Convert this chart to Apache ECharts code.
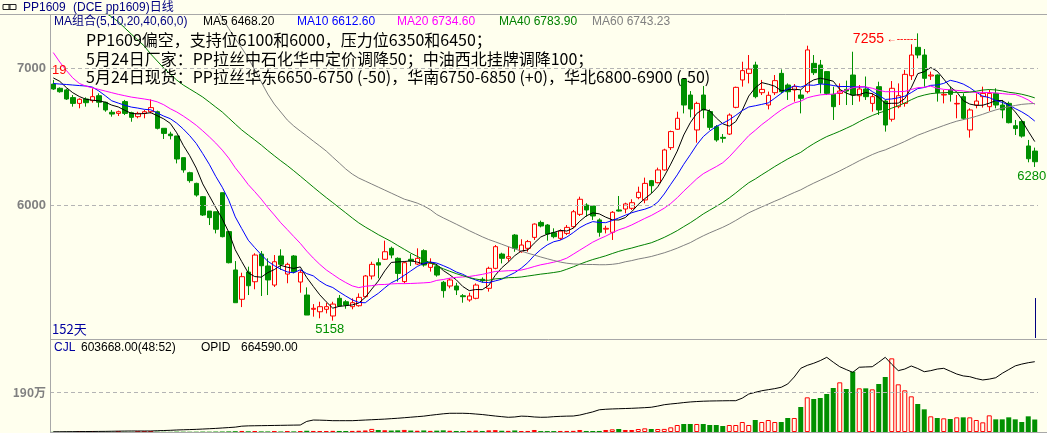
<!DOCTYPE html>
<html><head><meta charset="utf-8">
<script src="https://cdn.jsdelivr.net/npm/echarts@6/dist/echarts.min.js"></script>
<style>html,body{margin:0;padding:0;background:#FFFFEE;}#c{width:1047px;height:433px;}</style>
</head><body><div id="c"></div>
<script>
const categories = Array.from({length:152}, (_, i) => String(i + 1));
const opens = [6885,6854,6842,6786,6744,6776,6764,6800,6752,6679,
6671,6757,6676,6647,6671,6683,6683,6562,6520,6506,
6348,6238,6160,6063,5958,5953,6092,5808,5528,5314,
5513,5442,5644,5557,5418,5630,5498,5630,5440,5345,
5241,5223,5241,5192,5321,5296,5260,5267,5333,5484,
5581,5606,5686,5613,5443,5606,5571,5669,5547,5552,
5438,5411,5411,5340,5309,5321,5460,5394,5540,5644,
5613,5783,5661,5686,5766,5875,5856,5800,5759,5795,
5844,5934,6002,5995,5893,5826,5803,5966,5973,5978,
6056,6039,6180,6165,6258,6421,6555,6922,6805,6550,
6805,6684,6574,6496,6520,6715,6915,6963,7024,6822,
6732,6822,6963,6878,6842,6805,6830,7036,7024,6976,
6810,6817,6846,6951,6800,6849,6744,6866,6761,6628,
6720,6744,6946,7153,7097,6944,6951,6805,6842,6740,
6793,6550,6732,6793,6720,6817,6732,6744,6581,6611,
6433,6396];
const closes = [6849,6829,6776,6744,6774,6749,6793,6752,6696,6666,
6683,6671,6642,6671,6683,6713,6562,6525,6508,6338,
6258,6180,6075,5929,5910,5825,5771,5581,5289,5479,
5413,5637,5559,5455,5588,5569,5569,5515,5511,5199,
5248,5260,5260,5279,5265,5272,5289,5328,5484,5569,
5564,5661,5637,5503,5581,5593,5613,5564,5576,5491,
5377,5455,5382,5333,5338,5418,5450,5540,5698,5613,
5625,5686,5710,5735,5863,5849,5790,5771,5812,5839,
5953,6044,5966,5922,5803,5832,5949,5958,6010,6019,
6095,6160,6143,6258,6404,6538,6635,6732,6703,6744,
6696,6569,6477,6489,6659,6861,6983,6995,6793,6846,
6803,6910,6829,6829,6866,6781,7134,6968,6890,6817,
6720,6834,6834,6805,6849,6793,6793,6696,6586,6854,
6800,6956,7097,7097,6927,6951,6822,6810,6810,6744,
6635,6696,6761,6817,6817,6732,6696,6603,6560,6505,
6340,6318];
const lows = [6842,6822,6769,6720,6708,6720,6749,6715,6683,6647,
6652,6659,6610,6635,6635,6671,6554,6484,6481,6306,
6238,6165,6063,5922,5856,5795,5766,5576,5289,5257,
5345,5387,5338,5345,5404,5528,5431,5504,5362,5199,
5187,5175,5211,5158,5260,5245,5241,5260,5326,5459,
5467,5601,5613,5443,5430,5557,5564,5552,5516,5479,
5326,5394,5345,5289,5296,5314,5435,5370,5533,5576,
5588,5661,5654,5661,5747,5839,5742,5759,5747,5783,
5832,5922,5917,5893,5771,5795,5747,5954,5942,5966,
6044,6015,6087,6160,6253,6404,6550,6671,6642,6457,
6635,6550,6464,6457,6513,6708,6866,6890,6781,6805,
6700,6805,6817,6769,6757,6671,6817,6951,6817,6805,
6623,6732,6732,6732,6757,6769,6683,6659,6538,6611,
6708,6720,6915,7073,6866,6915,6757,6744,6757,6635,
6623,6494,6708,6713,6688,6708,6635,6598,6513,6494,
6314,6280];
const highs = [6915,6861,6851,6805,6781,6788,6854,6817,6756,6696,
6691,6769,6683,6683,6696,6773,6691,6562,6537,6506,
6348,6245,6165,6068,5958,5953,6092,5808,5593,5508,
5552,5650,5666,5613,5637,5679,5581,5637,5528,5401,
5279,5296,5289,5296,5345,5308,5321,5357,5491,5588,
5613,5742,5698,5620,5589,5644,5686,5679,5613,5571,
5448,5467,5435,5352,5362,5430,5474,5552,5710,5654,
5698,5790,5752,5747,5868,5888,5863,5832,5824,5856,
5966,6063,6015,6002,5905,5851,5958,6068,6019,6044,
6136,6202,6185,6275,6413,6545,6683,6927,6834,6756,
6871,6700,6586,6520,6671,6866,7048,7097,7048,6915,
6830,6951,6992,6890,6885,6842,7165,7097,7061,6980,
6866,6890,6910,7121,6878,6940,6817,6902,6769,6907,
6890,6988,7175,7255,7141,6976,6956,6842,6866,6805,
6817,6708,6817,6866,6842,6854,6769,6757,6623,6623,
6477,6421];
const volumes = [8000,6000,9000,7000,5000,8000,10000,6000,12000,9000,
7000,11000,8000,6000,9000,13000,15000,12000,10000,18000,
16000,14000,15000,20000,17000,22000,25000,30000,40000,50000,
35000,45000,30000,28000,30000,25000,28000,30000,45000,60000,
50000,48000,45000,55000,50000,48000,52000,60000,75000,150000,
95000,85000,70000,80000,100000,70000,60000,75000,55000,65000,
80000,60000,50000,45000,55000,70000,50000,80000,90000,60000,
55000,75000,48000,50000,97000,45000,45000,45000,50000,50000,
55000,97000,50000,48000,50000,97000,129000,145000,97000,97000,
145000,177000,145000,145000,150000,226000,338000,387000,387000,387000,
387000,338000,338000,290000,338000,338000,483000,338000,580000,483000,
580000,483000,483000,677000,677000,1209000,1676000,1595000,1644000,1837000,
2127000,2401000,2079000,2917000,2111000,2111000,2063000,2321000,2659000,3561000,
2305000,2014000,1724000,1354000,1096000,758000,677000,661000,628000,709000,
709000,709000,580000,467000,806000,612000,612000,709000,612000,483000,
758000,603668];
const openInterest = [2000,2500,3000,3500,4000,4500,5000,5500,6000,7000,
8000,9000,9500,9500,9500,9500,12000,14000,16000,19000,
21000,23000,25000,28000,31000,34000,38000,42000,46000,55000,
58000,59000,60000,61000,62000,63000,64000,65000,66000,100000,
113000,112000,110000,107000,107000,107000,107000,110000,113000,116000,
119000,122000,126000,130000,135000,140000,145000,150000,158000,165000,
172000,177000,177000,177000,175000,170000,165000,158000,151000,145000,
139000,142000,150000,148000,142000,139000,140000,145000,148000,150000,
151000,160000,175000,190000,210000,215000,218000,220000,222000,224000,
227000,230000,234000,245000,258000,265000,271000,278000,284000,288000,
291000,293000,294000,295000,296000,296000,320000,359000,375000,390000,
400000,410000,423000,454000,520000,602000,630000,650000,675000,706000,
660000,617000,590000,564000,612000,615000,617000,660000,706000,640000,
580000,595000,624000,600000,570000,580000,595000,602000,575000,548000,
530000,523000,505000,492000,500000,513000,555000,590000,625000,642000,
655000,664590];
const ma5Head = [6930,6905,6860,6822];
const ma10Head = [6889,6885,6882,6878,6874,6871,6863,6835,6800];
const ma20Head = [7115,7046,6985,6930,6890,6870,6858,6846,6834,6822,6810,6800,6790,6783,6776,6768,6755,6734,6705];
const ma40Head = [7800,7740,7680,7625,7570,7520,7475,7435,7405,7375,7340,7295,7250,7207,7163,7104,7053,7002,6958,6914,
6878,6849,6820,6790,6754,6717,6681,6637,6593,6550,6513,6477,6440,6400,6362,6325,6290,6252,6213];
const ma60Head = [7950,7930,7910,7890,7870,7850,7830,7810,7790,7770,7750,7730,7710,7690,7670,7650,7630,7610,7590,7570,
7550,7530,7510,7490,7470,7440,7367,7290,7215,7148,7075,6988,6900,6812,6739,6681,6623,6579,6542,6506,
6469,6433,6396,6352,6309,6265,6228,6199,6177,6155,6133,6111,6089,6067,6045,6031,6016,5995,5969];
const priceTicks = [6000, 7000];
const volTicks = [1900000];

function movingAvg(n, head) {
  const out = [];
  for (let i = 0; i < closes.length; i++) {
    if (i < n - 1) { out.push(head[i]); continue; }
    let s = 0;
    for (let j = i - n + 1; j <= i; j++) s += closes[j];
    out.push(+(s / n).toFixed(2));
  }
  return out;
}

const BG = '#FFFFEE', RED = '#FF0000', GREEN = '#009000';
const FONT = '"Liberation Sans","Noto Sans CJK SC",sans-serif';
const CJK = '"Noto Sans CJK SC","Liberation Sans",sans-serif';
const candleData = opens.map((o, i) => [o, closes[i], lows[i], highs[i]]);
const volData = volumes.map((v, i) => ({
  value: v,
  itemStyle: closes[i] >= opens[i] ? {color: BG, borderColor: RED, borderWidth: 1} : {color: GREEN}
}));
const maDefs = [[5, ma5Head, '#000000'], [10, ma10Head, '#0000FF'], [20, ma20Head, '#FF00FF'], [40, ma40Head, '#008000'], [60, ma60Head, '#808080']];

const chart = echarts.init(document.getElementById('c'));
const txt = (x, y, text, fill, size, fam) => ({type: 'text', x, y, silent: true, z: 10,
  style: {text, fill, font: (size || 13) + 'px ' + (fam || FONT), verticalAlign: 'middle'}});
const gline = (x1, y1, x2, y2, c, w) => ({type: 'line', silent: true, z: 9, shape: {x1, y1, x2, y2}, style: {stroke: c || '#A8A8A8', lineWidth: w || 1}});

chart.setOption({
  animation: false,
  backgroundColor: BG,
  grid: [
    {left: 50, right: 9, top: 14, height: 324},
    {left: 50, right: 9, top: 340, height: 92}
  ],
  xAxis: [
    {type: 'category', gridIndex: 0, data: categories, boundaryGap: true, axisLine: {show: false}, axisTick: {show: false}, axisLabel: {show: false}},
    {type: 'category', gridIndex: 1, data: categories, boundaryGap: true, axisLine: {show: false}, axisTick: {show: false}, axisLabel: {show: false}}
  ],
  yAxis: [
    {type: 'value', gridIndex: 0, min: 5031.4, max: 7396.4, axisLine: {show: false}, axisTick: {show: false}, splitLine: {show: false},
      axisLabel: {customValues: priceTicks, formatter: v => String(v), color: '#808080', fontWeight: 'bold', fontSize: 13, margin: 4, fontFamily: FONT}},
    {type: 'value', gridIndex: 1, min: 0, max: 4448000, axisLine: {show: false}, axisTick: {show: false}, splitLine: {show: false},
      axisLabel: {customValues: volTicks, formatter: v => (v / 10000) + '万', color: '#808080', fontWeight: 'bold', fontSize: 12, margin: 4, fontFamily: CJK}},
    {type: 'value', gridIndex: 1, min: 0, max: 869700, show: false}
  ],
  series: [
    {type: 'candlestick', xAxisIndex: 0, yAxisIndex: 0, data: candleData, barWidth: 5, z: 3,
      itemStyle: {color: BG, color0: GREEN, borderColor: RED, borderColor0: GREEN, borderWidth: 1},
      markLine: {silent: true, symbol: ['none', 'none'], label: {show: false}, animation: false,
        data: [
          ...priceTicks.map(v => ({yAxis: v, lineStyle: {color: '#B4B4B4', type: [4, 3], width: 1}})),
          [{coord: [categories[151], 5323], lineStyle: {color: '#000080', type: 'solid', width: 1}}, {coord: [categories[151], 5031.4]}]
        ]},
      markPoint: {symbol: 'circle', symbolSize: 0, silent: true, animation: false,
        data: [
          {coord: [categories[133], 7255], label: {show: true, position: 'left', distance: 1, offset: [0, 5.5],
            formatter: '{a|7255}{b| ←------}', rich: {a: {color: RED, fontSize: 14, fontFamily: FONT}, b: {color: RED, fontSize: 10, fontFamily: FONT}}}},
          {coord: [categories[43], 5158], label: {show: true, position: 'bottom', distance: 2, offset: [-3, 0], formatter: '5158', color: GREEN, fontSize: 13, fontFamily: FONT}},
          {coord: [categories[151], 6280], label: {show: true, position: 'bottom', distance: 2.5, offset: [-3, 0], formatter: '6280', color: GREEN, fontSize: 13, fontFamily: FONT}}
        ]}
    },
    ...maDefs.map(([n, head, c]) => ({type: 'line', name: 'MA' + n, xAxisIndex: 0, yAxisIndex: 0, data: movingAvg(n, head),
      symbol: 'none', z: 4, lineStyle: {color: c, width: 1}, silent: true})),
    {type: 'bar', xAxisIndex: 1, yAxisIndex: 1, data: volData, barWidth: 5, z: 3,
      markLine: {silent: true, symbol: ['none', 'none'], label: {show: false}, animation: false,
        data: volTicks.map(v => ({yAxis: v, lineStyle: {color: '#B4B4B4', type: [4, 3], width: 1}}))}},
    {type: 'line', xAxisIndex: 1, yAxisIndex: 2, data: openInterest, symbol: 'none', z: 4, lineStyle: {color: '#000000', width: 1}, silent: true}
  ],
  graphic: [
    gline(0, 14.5, 1047, 14.5),
    gline(50.5, 14, 50.5, 433),
    gline(50, 339.5, 1047, 339.5),
    gline(50, 432.5, 1047, 432.5),
    {type: 'rect', silent: true, shape: {x: 3, y: 4.5, width: 7, height: 5}, style: {fill: 'none', stroke: '#202020', lineWidth: 1}},
    {type: 'rect', silent: true, shape: {x: 9, y: 4.5, width: 7, height: 5}, style: {fill: 'none', stroke: '#202020', lineWidth: 1}},
    txt(23, 7.5, 'PP1609', '#000080', 12),
    txt(73, 7.5, '(DCE pp1609)日线', '#000080', 12),
    txt(54, 21.5, 'MA组合(5,10,20,40,60,0)', '#000080', 12),
    txt(203, 21.5, 'MA5 6468.20', '#000000', 12),
    txt(297, 21.5, 'MA10 6612.60', '#0000FF', 12),
    txt(397, 21.5, 'MA20 6734.60', '#FF00FF', 12),
    txt(499, 21.5, 'MA40 6783.90', '#008000', 12),
    txt(592, 21.5, 'MA60 6743.23', '#808080', 12),
    txt(86, 40, 'PP1609偏空，支持位6100和6000，压力位6350和6450；', '#000000', 16, CJK),
    txt(86, 58.5, '5月24日厂家：PP拉丝中石化华中定价调降50；中油西北挂牌调降100；', '#000000', 16, CJK),
    txt(86, 77, '5月24日现货：PP拉丝华东6650-6750 (-50)，华南6750-6850 (+0)，华北6800-6900 (-50)', '#000000', 16, CJK),
    txt(52, 70.5, '19', RED, 13),
    txt(52, 329.5, '152天', '#0000A0', 13, CJK),
    txt(54, 348, 'CJL', '#0000A0', 12),
    txt(81, 348, '603668.00(48:52)', '#000000', 12),
    txt(201, 348, 'OPID', '#000000', 12),
    txt(241, 348, '664590.00', '#000000', 12)
  ]
});
</script></body></html>
